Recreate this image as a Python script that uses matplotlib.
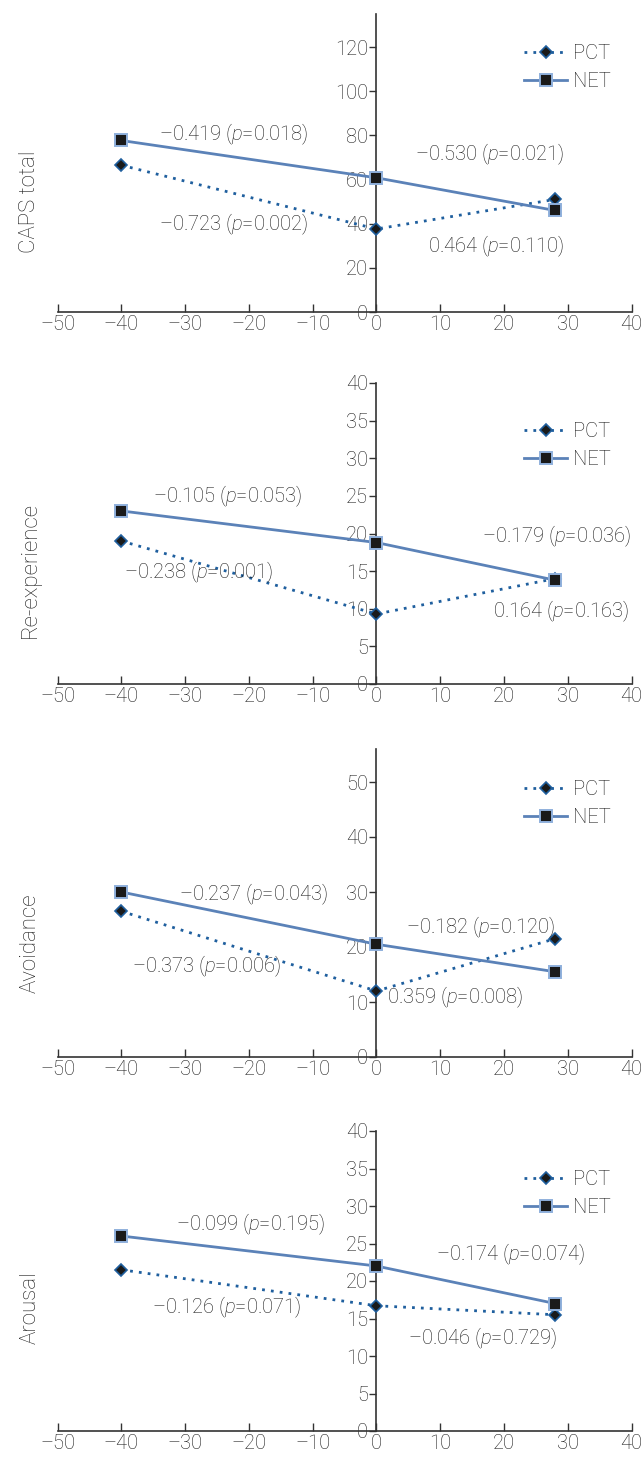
import matplotlib
matplotlib.use("Agg")
import matplotlib.pyplot as plt
from matplotlib.ticker import FuncFormatter, MultipleLocator
from matplotlib.lines import Line2D

plt.rcParams['font.family'] = ['Roboto', 'DejaVu Sans']
plt.rcParams['font.weight'] = 'light'
plt.rcParams['mathtext.fontset'] = 'custom'
plt.rcParams['mathtext.it'] = 'Roboto:italic:light'
plt.rcParams['mathtext.rm'] = 'Roboto:light'

# ---------------- data ----------------
x_time = [-40, 0, 28]

titles = ["CAPS total", "Re-experience", "Avoidance", "Arousal"]

pct_caps = [66.5, 37.6, 51.0]
net_caps = [77.7, 60.8, 46.0]
pct_reexp = [19.0, 9.3, 14.0]
net_reexp = [23.0, 18.8, 13.8]
pct_avoid = [26.5, 12.0, 21.5]
net_avoid = [30.0, 20.5, 15.5]
pct_arous = [21.5, 16.7, 15.5]
net_arous = [26.0, 22.0, 17.0]

ylims = [135, 40, 56, 40]
ysteps = [20, 5, 10, 5]
ytop_ticks = [120, 40, 50, 40]

# annotation texts: (coef, p, x, y)
ann_caps = [("\u20130.419", "0.018", -22.4, 80.5),
            ("\u20130.530", "0.021", 17.8, 71.4),
            ("\u20130.723", "0.002", -22.4, 39.5),
            ("0.464", "0.110", 18.7, 29.7)]
ann_reexp = [("\u20130.105", "0.053", -23.3, 24.9),
             ("\u20130.179", "0.036", 28.3, 19.6),
             ("\u20130.238", "0.001", -27.9, 14.8),
             ("0.164", "0.163", 29.0, 9.7)]
ann_avoid = [("\u20130.237", "0.043", -19.2, 29.5),
             ("\u20130.182", "0.120", 16.3, 23.5),
             ("\u20130.373", "0.006", -26.7, 16.5),
             ("0.359", "0.008", 12.3, 10.8)]
ann_arous = [("\u20130.099", "0.195", -19.7, 27.5),
             ("\u20130.174", "0.074", 21.0, 23.5),
             ("\u20130.126", "0.071", -23.5, 16.5),
             ("\u20130.046", "0.729", 16.6, 12.3)]

pct_all = [pct_caps, pct_reexp, pct_avoid, pct_arous]
net_all = [net_caps, net_reexp, net_avoid, net_arous]
ann_all = [ann_caps, ann_reexp, ann_avoid, ann_arous]
legend_y = [0.90, 0.87, 0.90, 0.87]
label_frac = [0.37, 0.38, 0.37, 0.41]

# ---------------- layout (pixels) ----------------
W, H = 643, 1463
fig = plt.figure(figsize=(W / 100, H / 100), dpi=100)
left_px, right_px = 57.5, 631.5
panels_px = [(14, 312), (383, 684), (749, 1057), (1131, 1431)]

PCT_LINE = '#1f5f9e'
PCT_EDGE = '#1f5f9e'
NET_LINE = '#5b82b8'
NET_EDGE = '#8fb0dc'
TXT = '#1a1a1a'
FS = 14.5

def fmt(v, pos):
    s = f"{int(round(v))}"
    return s.replace('-', '\u2013')

for i in range(4):
    top, bot = panels_px[i]
    ax = fig.add_axes([left_px / W, 1 - bot / H, (right_px - left_px) / W, (bot - top) / H])
    ax.set_xlim(-50, 40)
    ax.set_ylim(0, ylims[i])
    for s in ['top', 'right']:
        ax.spines[s].set_visible(False)
    ax.spines['left'].set_position(('data', 0))
    ax.spines['left'].set_color('#333333')
    ax.spines['bottom'].set_color('#333333')
    ax.spines['left'].set_linewidth(1.2)
    ax.spines['bottom'].set_linewidth(1.2)
    ax.patch.set_alpha(0)

    ax.xaxis.set_major_locator(MultipleLocator(10))
    ax.set_yticks(list(range(0, ytop_ticks[i] + 1, ysteps[i])))
    ax.xaxis.set_major_formatter(FuncFormatter(fmt))
    ax.yaxis.set_major_formatter(FuncFormatter(fmt))
    ax.tick_params(axis='x', direction='in', length=6, width=1.0, color='#333333',
                   labelsize=FS, labelcolor=TXT, pad=2)
    ax.tick_params(axis='y', direction='out', length=5, width=1.0, color='#333333',
                   labelsize=FS, labelcolor=TXT, pad=1)

    ax.plot(x_time, pct_all[i], linestyle=(0, (1, 2.2)), linewidth=2.0, color=PCT_LINE,
            marker='D', markersize=6.5, markerfacecolor='#1a1a1a', markeredgecolor=PCT_EDGE,
            markeredgewidth=1.2, zorder=3, clip_on=False)
    ax.plot(x_time, net_all[i], linestyle='-', linewidth=2.0, color=NET_LINE,
            marker='s', markersize=9, markerfacecolor='#1a1a1a', markeredgecolor=NET_EDGE,
            markeredgewidth=1.4, zorder=4, clip_on=False)

    for coef, p, xx, yy in ann_all[i]:
        ax.text(xx, yy, f"{coef} ($p$=" + p + ")", ha='center', va='center',
                fontsize=FS, color=TXT, zorder=5)

    ax.text(-0.045 - (57.5 - 30) / (right_px - left_px) + 0.045, label_frac[i], titles[i],
            transform=ax.transAxes, rotation=90,
            ha='center', va='center', fontsize=16, color=TXT)

    handles = [Line2D([], [], linestyle=(0, (1, 2.2)), linewidth=2.0, color=PCT_LINE,
                      marker='D', markersize=6.5, markerfacecolor='#1a1a1a',
                      markeredgecolor=PCT_EDGE, markeredgewidth=1.2),
               Line2D([], [], linestyle='-', linewidth=2.0, color=NET_LINE,
                      marker='s', markersize=9, markerfacecolor='#1a1a1a',
                      markeredgecolor=NET_EDGE, markeredgewidth=1.4)]
    leg = ax.legend(handles, ["PCT", "NET"], loc='upper left',
                    bbox_to_anchor=((524 - left_px) / (right_px - left_px), legend_y[i]),
                    frameon=False, fontsize=FS, handlelength=2.15, handletextpad=0.3,
                    borderpad=0, borderaxespad=0, labelspacing=0.45)
    for t in leg.get_texts():
        t.set_color(TXT)

fig.savefig("out.png", dpi=100)
